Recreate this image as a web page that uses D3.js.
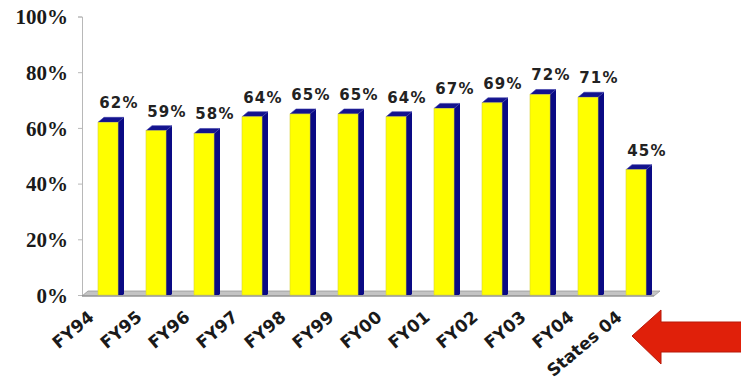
<!DOCTYPE html>
<html>
<head>
<meta charset="utf-8">
<script src="https://cdn.jsdelivr.net/npm/d3@7"></script>
<style>
  html, body { margin: 0; padding: 0; background: #ffffff; }
  svg { display: block; }
</style>
</head>
<body>
<svg id="chart" width="741" height="383"></svg>
<script>
// Share of cases by fiscal year, with the 2004 all-state figure for comparison
const categories = ["FY94", "FY95", "FY96", "FY97", "FY98", "FY99", "FY00", "FY01", "FY02", "FY03", "FY04", "States 04"];
const values = [0.62, 0.59, 0.58, 0.64, 0.65, 0.65, 0.64, 0.67, 0.69, 0.72, 0.71, 0.45];
const yTicks = [0, 0.2, 0.4, 0.6, 0.8, 1.0];

const svg = d3.select("#chart");

const x = d3.scaleBand()
  .domain(categories)
  .range([82, 662])
  .paddingInner(28 / 48)
  .paddingOuter(1 / 3);

const y = d3.scaleLinear().domain([0, 1]).range([295, 16.5]);

// 3D extrusion of the bars and floor
const depthX = 6, depthY = 5;
const bw = x.bandwidth();

// Value axis
const yAxis = d3.axisLeft(y)
  .tickValues(yTicks)
  .tickFormat(d3.format(".0%"))
  .tickSize(4)
  .tickPadding(10);

const gy = svg.append("g")
  .attr("transform", "translate(82,0)")
  .call(yAxis);
gy.select(".domain").attr("stroke", "#b8b8b8").attr("stroke-width", 1);
gy.selectAll(".tick line").attr("stroke", "#b8b8b8");
gy.selectAll(".tick text")
  .attr("fill", "#1a1a1a")
  .attr("font-family", "'Liberation Serif', 'Times New Roman', serif")
  .attr("font-weight", "bold")
  .attr("font-size", 21)
  .attr("dy", "0.34em");

// Floor slab
const floorLeft = x.range()[0];
const floorRight = x.range()[1] - 8;
const y0 = y(0);
svg.append("path")
  .attr("d", `M${floorLeft},${y0 + 1} L${floorRight},${y0 + 1} L${floorRight + depthX},${y0 + 1 - depthY} L${floorLeft + depthX},${y0 + 1 - depthY} Z`)
  .attr("fill", "#c4c4c4")
  .attr("stroke", "#9a9a9a")
  .attr("stroke-width", 0.8);
svg.append("line")
  .attr("x1", floorLeft).attr("x2", floorRight)
  .attr("y1", y0 + 1).attr("y2", y0 + 1)
  .attr("stroke", "#8a8a8a").attr("stroke-width", 1.2);

// Bars: front face, right side and top
const data = categories.map((c, i) => ({ c, v: values[i] }));
const bars = svg.append("g").selectAll("g").data(data).join("g");

bars.append("path")
  .attr("d", d => {
    const x0 = x(d.c) + bw, yt = y(d.v), yb = y(0);
    return `M${x0},${yb} L${x0},${yt} L${x0 + depthX},${yt - depthY} L${x0 + depthX},${yb - depthY + 4} L${x0 + depthX - 1},${yb} Z`;
  })
  .attr("fill", "#0a0a84");

bars.append("path")
  .attr("d", d => {
    const x0 = x(d.c), yt = y(d.v);
    return `M${x0},${yt} L${x0 + bw},${yt} L${x0 + bw + depthX},${yt - depthY} L${x0 + depthX},${yt - depthY} Z`;
  })
  .attr("fill", "#13138e")
  .attr("stroke", "#3a3aa6")
  .attr("stroke-width", 0.6);

bars.append("rect")
  .attr("x", d => x(d.c))
  .attr("y", d => y(d.v))
  .attr("width", bw)
  .attr("height", d => y(0) - y(d.v))
  .attr("fill", "#ffff00")
  .attr("stroke", "#d6d23a")
  .attr("stroke-width", 0.6);

// Value labels
bars.append("text")
  .attr("x", d => x(d.c) + bw / 2 + 11)
  .attr("y", d => y(d.v) - 14)
  .attr("text-anchor", "middle")
  .attr("font-family", "'DejaVu Sans', Verdana, sans-serif")
  .attr("font-weight", "bold")
  .attr("font-size", 15)
  .attr("letter-spacing", 1.2)
  .attr("fill", "#222222")
  .text(d => d3.format(".0%")(d.v));

// Category labels, slanted
svg.append("g").selectAll("text").data(categories).join("text")
  .attr("transform", c => `translate(${x(c) - 3},${y0 + 24}) rotate(-40)`)
  .attr("text-anchor", "end")
  .attr("font-family", "'DejaVu Sans', Verdana, sans-serif")
  .attr("font-weight", "bold")
  .attr("font-size", 17)
  .attr("fill", "#1a1a1a")
  .text(c => c);

// Arrow pointing at the all-state comparison
const last = categories[categories.length - 1];
const tipX = x(last) + 6, tipY = 336;
svg.append("path")
  .attr("d", `M${tipX},${tipY} L${tipX + 29},${tipY - 26} L${tipX + 29},${tipY - 14} L745,${tipY - 14} L745,${tipY + 16} L${tipX + 29},${tipY + 16} L${tipX + 29},${tipY + 28} Z`)
  .attr("fill", "#e0200a")
  .attr("stroke", "#b81808")
  .attr("stroke-width", 1)
  .attr("stroke-linejoin", "miter");
</script>
</body>
</html>
